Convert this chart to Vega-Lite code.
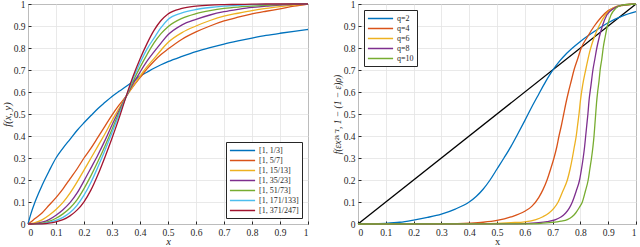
{
  "$schema": "https://vega.github.io/schema/vega-lite/v6.json",
  "background": "white",
  "padding": {"left": 1, "top": -2, "right": 0, "bottom": 0},
  "spacing": 19,
  "config": {
    "font": "Liberation Serif",
    "view": {"stroke": "#262626", "strokeWidth": 1},
    "axis": {
      "domain": false,
      "grid": true,
      "gridColor": "#e3e3e3",
      "gridWidth": 0.8,
      "tickColor": "#262626",
      "tickSize": -3,
      "labelPadding": 6,
      "labelFont": "Liberation Serif",
      "labelFontSize": 9.5,
      "labelColor": "#262626",
      "titleFont": "Liberation Serif",
      "titleFontSize": 10.5,
      "titleFontWeight": "normal",
      "titleColor": "#262626"
    },
    "legend": {
      "strokeColor": "#262626",
      "fillColor": "white",
      "padding": 3,
      "rowPadding": 0,
      "labelFont": "Liberation Serif",
      "labelFontSize": 8,
      "labelColor": "#262626",
      "symbolType": "M-2.8,0H2.8",
      "symbolSize": 81,
      "symbolStrokeWidth": 1.5,
      "symbolOffset": 8,
      "labelOffset": 11
    }
  },
  "resolve": {"scale": {"color": "independent"}, "legend": {"color": "independent"}},
  "hconcat": [
    {
      "width": 280,
      "height": 220,
      "data": {"values": [
        {"x": 0, "a": 0, "b": 0, "c": 0, "d": 0, "e": 0, "f": 0, "g": 0},
        {"x": 0.01, "a": 0.045, "b": 0.009, "c": 0.002, "d": 0.0005, "e": 0.0002, "f": 0.0001, "g": 0},
        {"x": 0.025, "a": 0.1, "b": 0.025, "c": 0.006, "d": 0.002, "e": 0.001, "f": 0.0004, "g": 0.0002},
        {"x": 0.05, "a": 0.175, "b": 0.05, "c": 0.019, "d": 0.008, "e": 0.004, "f": 0.002, "g": 0.001},
        {"x": 0.075, "a": 0.24, "b": 0.085, "c": 0.04, "d": 0.02, "e": 0.012, "f": 0.007, "g": 0.004},
        {"x": 0.1, "a": 0.3, "b": 0.12, "c": 0.066, "d": 0.04, "e": 0.026, "f": 0.016, "g": 0.01},
        {"x": 0.125, "a": 0.345, "b": 0.16, "c": 0.098, "d": 0.065, "e": 0.046, "f": 0.03, "g": 0.02},
        {"x": 0.15, "a": 0.385, "b": 0.205, "c": 0.14, "d": 0.097, "e": 0.073, "f": 0.052, "g": 0.037},
        {"x": 0.175, "a": 0.425, "b": 0.25, "c": 0.19, "d": 0.14, "e": 0.11, "f": 0.085, "g": 0.063},
        {"x": 0.2, "a": 0.46, "b": 0.3, "c": 0.245, "d": 0.196, "e": 0.161, "f": 0.131, "g": 0.101},
        {"x": 0.225, "a": 0.493, "b": 0.345, "c": 0.3, "d": 0.255, "e": 0.22, "f": 0.19, "g": 0.155},
        {"x": 0.25, "a": 0.525, "b": 0.395, "c": 0.355, "d": 0.315, "e": 0.285, "f": 0.26, "g": 0.225},
        {"x": 0.275, "a": 0.553, "b": 0.445, "c": 0.41, "d": 0.38, "e": 0.355, "f": 0.335, "g": 0.305},
        {"x": 0.3, "a": 0.58, "b": 0.495, "c": 0.47, "d": 0.45, "e": 0.43, "f": 0.415, "g": 0.39},
        {"x": 0.325, "a": 0.603, "b": 0.54, "c": 0.525, "d": 0.515, "e": 0.505, "f": 0.495, "g": 0.48},
        {"x": 0.35, "a": 0.625, "b": 0.58, "c": 0.578, "d": 0.578, "e": 0.578, "f": 0.578, "g": 0.578},
        {"x": 0.375, "a": 0.648, "b": 0.625, "c": 0.627, "d": 0.637, "e": 0.648, "f": 0.66, "g": 0.67},
        {"x": 0.4, "a": 0.672, "b": 0.665, "c": 0.672, "d": 0.69, "e": 0.712, "f": 0.732, "g": 0.75},
        {"x": 0.425, "a": 0.69, "b": 0.705, "c": 0.715, "d": 0.74, "e": 0.77, "f": 0.795, "g": 0.82},
        {"x": 0.45, "a": 0.708, "b": 0.74, "c": 0.752, "d": 0.782, "e": 0.823, "f": 0.845, "g": 0.88},
        {"x": 0.475, "a": 0.724, "b": 0.77, "c": 0.79, "d": 0.822, "e": 0.865, "f": 0.893, "g": 0.925},
        {"x": 0.5, "a": 0.738, "b": 0.795, "c": 0.825, "d": 0.86, "e": 0.897, "f": 0.93, "g": 0.955},
        {"x": 0.55, "a": 0.762, "b": 0.84, "c": 0.87, "d": 0.905, "e": 0.935, "f": 0.96, "g": 0.98},
        {"x": 0.6, "a": 0.784, "b": 0.873, "c": 0.9, "d": 0.93, "e": 0.956, "f": 0.975, "g": 0.99},
        {"x": 0.65, "a": 0.802, "b": 0.9, "c": 0.925, "d": 0.95, "e": 0.97, "f": 0.984, "g": 0.995},
        {"x": 0.7, "a": 0.818, "b": 0.923, "c": 0.945, "d": 0.965, "e": 0.98, "f": 0.99, "g": 0.997},
        {"x": 0.75, "a": 0.832, "b": 0.94, "c": 0.958, "d": 0.976, "e": 0.986, "f": 0.994, "g": 0.998},
        {"x": 0.8, "a": 0.845, "b": 0.955, "c": 0.97, "d": 0.985, "e": 0.99, "f": 0.997, "g": 0.999},
        {"x": 0.85, "a": 0.857, "b": 0.967, "c": 0.98, "d": 0.99, "e": 0.994, "f": 0.998, "g": 1},
        {"x": 0.9, "a": 0.867, "b": 0.978, "c": 0.988, "d": 0.995, "e": 0.997, "f": 0.999, "g": 1},
        {"x": 0.95, "a": 0.876, "b": 0.99, "c": 0.995, "d": 0.998, "e": 0.999, "f": 1, "g": 1},
        {"x": 1, "a": 0.884, "b": 1, "c": 1, "d": 1, "e": 1, "f": 1, "g": 1}
      ]},
      "transform": [{"fold": ["a", "b", "c", "d", "e", "f", "g"], "as": ["k", "y"]}],
      "mark": {"type": "line", "strokeWidth": 1.3, "interpolate": "monotone"},
      "encoding": {
        "x": {"field": "x", "type": "quantitative", "scale": {"domain": [0, 1], "nice": false},
              "axis": {"values": [0, 0.1, 0.2, 0.3, 0.4, 0.5, 0.6, 0.7, 0.8, 0.9, 1], "format": "~g", "title": "x", "titleFontStyle": "italic", "titlePadding": 0}},
        "y": {"field": "y", "type": "quantitative", "scale": {"domain": [0, 1], "nice": false},
              "axis": {"values": [0, 0.1, 0.2, 0.3, 0.4, 0.5, 0.6, 0.7, 0.8, 0.9, 1], "format": "~g", "title": "f(x, y)", "titleFontStyle": "italic", "titlePadding": 1}},
        "color": {"field": "k", "type": "nominal",
                  "scale": {"domain": ["a", "b", "c", "d", "e", "f", "g"], "range": ["#0072BD", "#D95319", "#EDB120", "#7E2F8E", "#77AC30", "#4DBEEE", "#A2142F"]},
                  "legend": {"title": null, "orient": "bottom-right", "offset": 6,
                             "labelExpr": "['[1, 1/3]','[1, 5/7]','[1, 15/13]','[1, 35/23]','[1, 51/73]','[1, 171/133]','[1, 371/247]'][indexof(['a','b','c','d','e','f','g'], datum.label)]"}}
      }
    },
    {
      "width": 278,
      "height": 220,
      "encoding": {
        "x": {"field": "x", "type": "quantitative", "scale": {"domain": [0, 1], "nice": false},
              "axis": {"values": [0, 0.1, 0.2, 0.3, 0.4, 0.5, 0.6, 0.7, 0.8, 0.9, 1], "format": "~g", "title": "x", "titlePadding": 0}},
        "y": {"field": "y", "type": "quantitative", "scale": {"domain": [0, 1], "nice": false},
              "axis": {"values": [0, 0.1, 0.2, 0.3, 0.4, 0.5, 0.6, 0.7, 0.8, 0.9, 1], "format": "~g", "title": "f(εx²ᵏ⁻¹, 1 − (1 − ε)ρ)", "titleFontStyle": "italic", "titleFontSize": 9.5, "titlePadding": 1}}
      },
      "layer": [
        {
          "data": {"values": [{"x": 0, "y": 0}, {"x": 1, "y": 1}]},
          "mark": {"type": "line", "color": "black", "strokeWidth": 1.3}
        },
        {
          "data": {"values": [
            {"q": "q=2", "x": 0, "y": 0}, {"q": "q=2", "x": 0.05, "y": 0.0005}, {"q": "q=2", "x": 0.1, "y": 0.003},
            {"q": "q=2", "x": 0.15, "y": 0.008}, {"q": "q=2", "x": 0.2, "y": 0.018}, {"q": "q=2", "x": 0.25, "y": 0.03},
            {"q": "q=2", "x": 0.3, "y": 0.045}, {"q": "q=2", "x": 0.35, "y": 0.068}, {"q": "q=2", "x": 0.4, "y": 0.1},
            {"q": "q=2", "x": 0.425, "y": 0.125}, {"q": "q=2", "x": 0.45, "y": 0.158}, {"q": "q=2", "x": 0.475, "y": 0.2},
            {"q": "q=2", "x": 0.5, "y": 0.25}, {"q": "q=2", "x": 0.525, "y": 0.3}, {"q": "q=2", "x": 0.55, "y": 0.352},
            {"q": "q=2", "x": 0.575, "y": 0.41}, {"q": "q=2", "x": 0.6, "y": 0.47}, {"q": "q=2", "x": 0.625, "y": 0.532},
            {"q": "q=2", "x": 0.65, "y": 0.59}, {"q": "q=2", "x": 0.675, "y": 0.647}, {"q": "q=2", "x": 0.7, "y": 0.698},
            {"q": "q=2", "x": 0.725, "y": 0.74}, {"q": "q=2", "x": 0.75, "y": 0.775}, {"q": "q=2", "x": 0.8, "y": 0.83},
            {"q": "q=2", "x": 0.85, "y": 0.875}, {"q": "q=2", "x": 0.9, "y": 0.915}, {"q": "q=2", "x": 0.95, "y": 0.945},
            {"q": "q=2", "x": 1, "y": 0.965},

            {"q": "q=4", "x": 0, "y": 0}, {"q": "q=4", "x": 0.2, "y": 0.0001}, {"q": "q=4", "x": 0.3, "y": 0.0008},
            {"q": "q=4", "x": 0.4, "y": 0.004}, {"q": "q=4", "x": 0.45, "y": 0.008}, {"q": "q=4", "x": 0.5, "y": 0.016},
            {"q": "q=4", "x": 0.55, "y": 0.032}, {"q": "q=4", "x": 0.6, "y": 0.058}, {"q": "q=4", "x": 0.625, "y": 0.08},
            {"q": "q=4", "x": 0.65, "y": 0.12}, {"q": "q=4", "x": 0.665, "y": 0.155}, {"q": "q=4", "x": 0.68, "y": 0.2},
            {"q": "q=4", "x": 0.693, "y": 0.25}, {"q": "q=4", "x": 0.705, "y": 0.3}, {"q": "q=4", "x": 0.715, "y": 0.35},
            {"q": "q=4", "x": 0.723, "y": 0.4}, {"q": "q=4", "x": 0.732, "y": 0.45}, {"q": "q=4", "x": 0.74, "y": 0.5},
            {"q": "q=4", "x": 0.748, "y": 0.55}, {"q": "q=4", "x": 0.757, "y": 0.6}, {"q": "q=4", "x": 0.767, "y": 0.65},
            {"q": "q=4", "x": 0.777, "y": 0.7}, {"q": "q=4", "x": 0.79, "y": 0.75}, {"q": "q=4", "x": 0.803, "y": 0.8},
            {"q": "q=4", "x": 0.825, "y": 0.85}, {"q": "q=4", "x": 0.85, "y": 0.9}, {"q": "q=4", "x": 0.875, "y": 0.94},
            {"q": "q=4", "x": 0.9, "y": 0.97}, {"q": "q=4", "x": 0.925, "y": 0.985}, {"q": "q=4", "x": 0.95, "y": 0.993},
            {"q": "q=4", "x": 1, "y": 1},

            {"q": "q=6", "x": 0, "y": 0}, {"q": "q=6", "x": 0.4, "y": 0.0005}, {"q": "q=6", "x": 0.5, "y": 0.003},
            {"q": "q=6", "x": 0.55, "y": 0.006}, {"q": "q=6", "x": 0.6, "y": 0.01}, {"q": "q=6", "x": 0.64, "y": 0.02},
            {"q": "q=6", "x": 0.665, "y": 0.033}, {"q": "q=6", "x": 0.687, "y": 0.05}, {"q": "q=6", "x": 0.705, "y": 0.072},
            {"q": "q=6", "x": 0.72, "y": 0.1}, {"q": "q=6", "x": 0.737, "y": 0.15}, {"q": "q=6", "x": 0.753, "y": 0.2},
            {"q": "q=6", "x": 0.763, "y": 0.25}, {"q": "q=6", "x": 0.771, "y": 0.3}, {"q": "q=6", "x": 0.778, "y": 0.35},
            {"q": "q=6", "x": 0.785, "y": 0.4}, {"q": "q=6", "x": 0.79, "y": 0.45}, {"q": "q=6", "x": 0.795, "y": 0.5},
            {"q": "q=6", "x": 0.8, "y": 0.56}, {"q": "q=6", "x": 0.808, "y": 0.63}, {"q": "q=6", "x": 0.819, "y": 0.7},
            {"q": "q=6", "x": 0.835, "y": 0.79}, {"q": "q=6", "x": 0.85, "y": 0.85}, {"q": "q=6", "x": 0.867, "y": 0.9},
            {"q": "q=6", "x": 0.89, "y": 0.95}, {"q": "q=6", "x": 0.915, "y": 0.98}, {"q": "q=6", "x": 0.95, "y": 0.995},
            {"q": "q=6", "x": 1, "y": 1},

            {"q": "q=8", "x": 0, "y": 0}, {"q": "q=8", "x": 0.5, "y": 0.0002}, {"q": "q=8", "x": 0.6, "y": 0.002},
            {"q": "q=8", "x": 0.65, "y": 0.006}, {"q": "q=8", "x": 0.68, "y": 0.011}, {"q": "q=8", "x": 0.711, "y": 0.02},
            {"q": "q=8", "x": 0.73, "y": 0.032}, {"q": "q=8", "x": 0.747, "y": 0.05}, {"q": "q=8", "x": 0.76, "y": 0.072},
            {"q": "q=8", "x": 0.771, "y": 0.1}, {"q": "q=8", "x": 0.785, "y": 0.15}, {"q": "q=8", "x": 0.797, "y": 0.2},
            {"q": "q=8", "x": 0.804, "y": 0.25}, {"q": "q=8", "x": 0.81, "y": 0.3}, {"q": "q=8", "x": 0.815, "y": 0.35},
            {"q": "q=8", "x": 0.819, "y": 0.4}, {"q": "q=8", "x": 0.823, "y": 0.45}, {"q": "q=8", "x": 0.827, "y": 0.5},
            {"q": "q=8", "x": 0.831, "y": 0.56}, {"q": "q=8", "x": 0.838, "y": 0.63}, {"q": "q=8", "x": 0.845, "y": 0.7},
            {"q": "q=8", "x": 0.852, "y": 0.75}, {"q": "q=8", "x": 0.859, "y": 0.8}, {"q": "q=8", "x": 0.868, "y": 0.85},
            {"q": "q=8", "x": 0.879, "y": 0.9}, {"q": "q=8", "x": 0.895, "y": 0.95}, {"q": "q=8", "x": 0.92, "y": 0.98},
            {"q": "q=8", "x": 0.95, "y": 0.995}, {"q": "q=8", "x": 1, "y": 1},

            {"q": "q=10", "x": 0, "y": 0}, {"q": "q=10", "x": 0.6, "y": 0.0003}, {"q": "q=10", "x": 0.65, "y": 0.002},
            {"q": "q=10", "x": 0.7, "y": 0.007}, {"q": "q=10", "x": 0.73, "y": 0.013}, {"q": "q=10", "x": 0.753, "y": 0.02},
            {"q": "q=10", "x": 0.77, "y": 0.033}, {"q": "q=10", "x": 0.783, "y": 0.05}, {"q": "q=10", "x": 0.796, "y": 0.075},
            {"q": "q=10", "x": 0.807, "y": 0.1}, {"q": "q=10", "x": 0.818, "y": 0.15}, {"q": "q=10", "x": 0.828, "y": 0.2},
            {"q": "q=10", "x": 0.834, "y": 0.25}, {"q": "q=10", "x": 0.84, "y": 0.3}, {"q": "q=10", "x": 0.845, "y": 0.35},
            {"q": "q=10", "x": 0.849, "y": 0.4}, {"q": "q=10", "x": 0.852, "y": 0.45}, {"q": "q=10", "x": 0.855, "y": 0.5},
            {"q": "q=10", "x": 0.858, "y": 0.55}, {"q": "q=10", "x": 0.862, "y": 0.6}, {"q": "q=10", "x": 0.867, "y": 0.65},
            {"q": "q=10", "x": 0.871, "y": 0.7}, {"q": "q=10", "x": 0.877, "y": 0.75}, {"q": "q=10", "x": 0.882, "y": 0.8},
            {"q": "q=10", "x": 0.889, "y": 0.85}, {"q": "q=10", "x": 0.897, "y": 0.9}, {"q": "q=10", "x": 0.91, "y": 0.95},
            {"q": "q=10", "x": 0.927, "y": 0.98}, {"q": "q=10", "x": 0.95, "y": 0.995}, {"q": "q=10", "x": 1, "y": 1}
          ]},
          "mark": {"type": "line", "strokeWidth": 1.3, "interpolate": "monotone"},
          "encoding": {
            "color": {"field": "q", "type": "nominal",
                      "scale": {"domain": ["q=2", "q=4", "q=6", "q=8", "q=10"], "range": ["#0072BD", "#D95319", "#EDB120", "#7E2F8E", "#77AC30"]},
                      "legend": {"title": null, "orient": "top-left", "offset": 6}}
          }
        }
      ]
    }
  ]
}
